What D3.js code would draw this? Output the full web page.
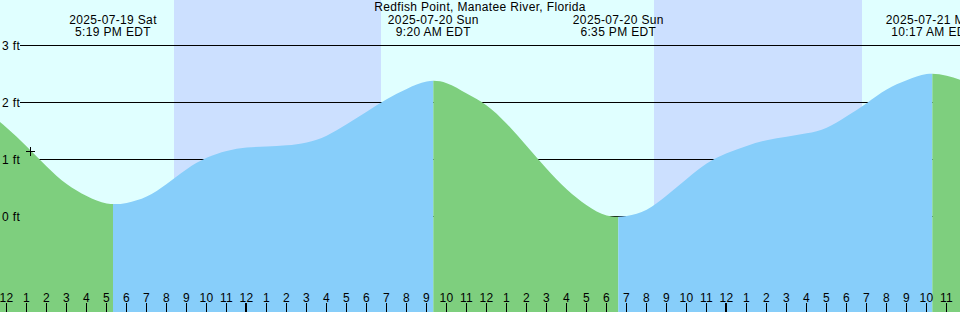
<!DOCTYPE html>
<html>
<head>
<meta charset="utf-8">
<script src="https://cdn.jsdelivr.net/npm/d3@7"></script>
<style>
  html, body { margin: 0; padding: 0; background: #e0ffff; }
  svg { display: block; }
  text { font-family: "Liberation Sans", Arial, sans-serif; font-size: 12px; letter-spacing: 0.35px; fill: #000; }
</style>
</head>
<body>
<div id="app"></div>
<script>
'use strict';

var title = 'Redfish Point, Manatee River, Florida';

// hourly tide heights (ft), first value at 2025-07-19 11:00 EDT
var firstHour = '2025-07-19 11:00';
var heights = [
  1.84, 1.55, 1.22, 0.87, 0.56, 0.35, 0.22, 0.23, 0.34, 0.56, 0.82, 1.02, 1.14,
  1.20, 1.22, 1.24, 1.29, 1.41, 1.61, 1.83, 2.05, 2.23, 2.36, 2.33, 2.15,
  1.94, 1.62, 1.23, 0.83, 0.47, 0.19, 0.01, 0.00, 0.11, 0.36, 0.65, 0.92,
  1.10, 1.23, 1.33, 1.39, 1.45, 1.55, 1.75, 1.98, 2.22, 2.38, 2.49, 2.46, 2.35
];

// turning points
var extremeTimes = ['2025-07-19 17:19', '2025-07-20 09:20', '2025-07-20 18:35', '2025-07-21 10:17'];
var extremeKinds = ['low', 'high', 'low', 'high'];

// sunset / sunrise pairs
var nightStarts = ['2025-07-19 20:22', '2025-07-20 20:22'];
var nightEnds = ['2025-07-20 06:43', '2025-07-21 06:46'];

var levelTicks = [0, 1, 2, 3];

var nowTime = '2025-07-19 13:11';
var nowHeight = 1.14;

var width = 960, height = 312;
var parse = d3.timeParse('%Y-%m-%d %H:%M');

var x = d3.scaleTime()
  .domain([parse('2025-07-19 11:40'), parse('2025-07-21 11:40')])
  .range([0, width]);
var y = d3.scaleLinear().domain([0, 3]).range([216, 45]);

var data = heights.map(function(v, i) {
  return { date: d3.timeHour.offset(parse(firstHour), i), value: v };
});

var svg = d3.select('#app').append('svg')
  .attr('width', width)
  .attr('height', height);

svg.append('rect').attr('width', width).attr('height', height).attr('fill', '#e0ffff');

// night bands
svg.selectAll('.night').data(nightStarts).enter().append('rect')
  .attr('class', 'night')
  .attr('x', function(d) { return Math.round(x(parse(d))); })
  .attr('width', function(d, i) { return Math.round(x(parse(nightEnds[i]))) - Math.round(x(parse(d))); })
  .attr('y', 0)
  .attr('height', height)
  .attr('fill', '#cce0ff');

// level lines (water is drawn over them)
svg.selectAll('.level').data(levelTicks).enter().append('line')
  .attr('x1', 20).attr('x2', width)
  .attr('y1', function(d) { return y(d) + 0.5; })
  .attr('y2', function(d) { return y(d) + 0.5; })
  .attr('stroke', '#000');

// water, coloured by rising (blue) / falling (green)
var area = d3.area()
  .x(function(d) { return x(d.date); })
  .y0(height)
  .y1(function(d) { return y(d.value); })
  .curve(d3.curveNatural);

svg.append('clipPath').attr('id', 'water')
  .append('path').attr('d', area(data));

var bounds = [x.domain()[0]].concat(extremeTimes.map(parse), [x.domain()[1]]);
var runs = [];
for (var i = 0; i < bounds.length - 1; i++) {
  runs.push({
    x0: x(bounds[i]),
    x1: x(bounds[i + 1]),
    rising: extremeKinds[i] === 'high'
  });
}

svg.append('g').attr('clip-path', 'url(#water)')
  .selectAll('rect').data(runs).enter().append('rect')
  .attr('x', function(d) { return d.x0; })
  .attr('width', function(d) { return d.x1 - d.x0; })
  .attr('y', 0)
  .attr('height', height)
  .attr('fill', function(d) { return d.rising ? '#87cefa' : '#7ecf7e'; });

svg.selectAll('.levelLabel').data(levelTicks).enter().append('text')
  .attr('x', 2)
  .attr('y', function(d) { return y(d) + 4.5; })
  .text(function(d) { return d + ' ft'; });

// hour ticks along the bottom
var hours = d3.timeHour.range(x.domain()[0], x.domain()[1]);
var hourFmt = d3.timeFormat('%-I');

svg.selectAll('.tick').data(hours).enter().append('rect')
  .attr('x', function(d) { return d.getHours() === 0 ? Math.floor(x(d)) - 1 : Math.floor(x(d)); })
  .attr('width', function(d) { return d.getHours() === 0 ? 2 : 1; })
  .attr('y', 303)
  .attr('height', 9)
  .attr('fill', '#000');

svg.selectAll('.tickLabel').data(hours).enter().append('text')
  .attr('x', function(d) { return Math.floor(x(d)) + 0.5; })
  .attr('y', 302)
  .attr('text-anchor', 'middle')
  .text(function(d) { return hourFmt(d); });

// high / low labels
var dateFmt = d3.timeFormat('%Y-%m-%d %a');
var timeFmt = d3.timeFormat('%-I:%M %p EDT');

var ext = svg.selectAll('.extreme').data(extremeTimes.map(parse)).enter().append('g')
  .attr('transform', function(d) { return 'translate(' + x(d) + ',0)'; });
ext.append('text').attr('y', 24).attr('text-anchor', 'middle').text(dateFmt);
ext.append('text').attr('y', 36).attr('text-anchor', 'middle').text(timeFmt);

svg.append('text')
  .attr('x', width / 2)
  .attr('y', 11)
  .attr('text-anchor', 'middle')
  .text(title);

// current time mark
var nx = Math.round(x(parse(nowTime))) + 0.5, ny = Math.round(y(nowHeight)) + 0.5;
svg.append('path')
  .attr('d', 'M' + (nx - 4.5) + ',' + ny + 'H' + (nx + 4.5) + 'M' + nx + ',' + (ny - 4.5) + 'V' + (ny + 4.5))
  .attr('stroke', '#000')
  .attr('fill', 'none');
</script>
</body>
</html>
